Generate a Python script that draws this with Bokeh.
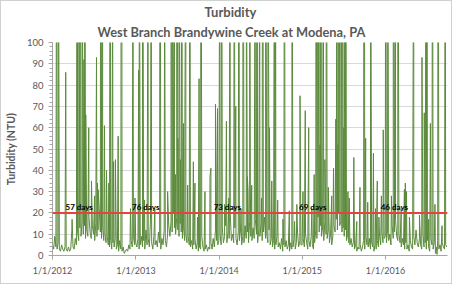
import pandas as pd
from datetime import datetime
from bokeh.plotting import figure
from bokeh.models import Span, Title, Range1d, FixedTicker, ColumnDataSource
from bokeh.core.properties import value
from bokeh.embed import file_html
from bokeh.resources import INLINE

# ---------------- data ----------------
# Baseline turbidity (NTU), one reading every 5 days starting 1/1/2012
base_2012 = [5, 3, 9, 4, 3, 6, 3, 2, 5, 3, 2, 4, 3, 2, 4, 2, 3, 12,
             4, 3, 8, 5, 11, 7, 13, 9, 16, 10, 14, 8, 12, 9, 18, 11, 8, 14,
             10, 7, 15, 9, 12, 22, 11, 8, 13, 7, 10, 6, 9, 5, 4, 7, 3, 6,
             4, 8, 3, 5, 2, 7, 3, 2, 4, 1, 2, 3, 2, 5, 3, 7, 4, 9, 5]
base_2013 = [6, 4, 8, 3, 5, 9, 4, 7, 3, 12, 5, 8, 4, 17, 6, 3, 9, 5,
             7, 4, 11, 6, 3, 8, 5, 12, 7, 4, 10, 14, 9, 16, 11, 20, 13, 10,
             18, 12, 9, 15, 11, 8, 13, 7, 10, 6, 9, 5, 4, 7, 3, 5, 8, 3,
             6, 2, 4, 3, 9, 4, 2, 3, 5, 2, 4, 3, 6, 3, 8, 4, 12, 7, 5]
base_2014 = [7, 10, 5, 13, 6, 9, 14, 6, 11, 8, 19, 7, 10, 6, 13, 8, 5, 11,
             7, 12, 5, 9, 6, 14, 8, 11, 6, 16, 9, 7, 13, 8, 17, 10, 6, 12,
             9, 15, 7, 11, 18, 8, 10, 6, 12, 5, 8, 4, 7, 3, 5, 9, 4, 6,
             3, 8, 2, 5, 4, 7, 3, 5, 2, 6, 3, 4, 8, 3, 6, 11, 4, 7, 5]
base_2015 = [5, 8, 4, 10, 6, 3, 7, 4, 9, 5, 3, 6, 12, 8, 18, 11, 14, 9,
             13, 7, 16, 10, 8, 12, 6, 10, 5, 9, 14, 11, 17, 12, 20, 14, 16, 11,
             13, 9, 12, 7, 10, 6, 5, 8, 4, 6, 3, 5, 2, 4, 3, 5, 2, 4,
             7, 3, 9, 5, 4, 8, 3, 6, 4, 2, 5, 3, 7, 4, 9, 5, 11, 6, 8]
base_2016 = [9, 6, 12, 7, 10, 5, 14, 8, 11, 17, 9, 7, 10, 6, 4, 8, 5, 3,
             6, 3, 5, 2, 7, 4, 3, 9, 5, 12, 6, 4, 8, 5, 3, 10, 4, 6,
             3, 7, 4, 2, 8, 5, 3, 6, 1, 4, 7, 3, 5, 2, 6, 4, 3, 5, 4]

# Storm peaks (date, NTU); values above 100 run off the top of the chart
peaks_2012 = [("2012-01-20", 240), ("2012-01-27", 180), ("2012-02-28", 86),
              ("2012-03-27", 17), ("2012-04-19", 310), ("2012-04-26", 150),
              ("2012-05-03", 260), ("2012-05-11", 140), ("2012-05-18", 92),
              ("2012-05-22", 200), ("2012-05-26", 66), ("2012-06-08", 60),
              ("2012-06-20", 35), ("2012-07-04", 28), ("2012-07-12", 93),
              ("2012-07-16", 34), ("2012-07-19", 31), ("2012-07-30", 220),
              ("2012-08-03", 64), ("2012-08-08", 170), ("2012-08-16", 61),
              ("2012-08-25", 40), ("2012-09-04", 34), ("2012-09-11", 280),
              ("2012-09-21", 130), ("2012-09-25", 44), ("2012-10-03", 45),
              ("2012-10-15", 56), ("2012-10-30", 450), ("2012-12-08", 22),
              ("2012-12-19", 160), ("2012-12-28", 27)]
peaks_2013 = [("2013-01-13", 87), ("2013-01-16", 190), ("2013-01-30", 230),
              ("2013-02-08", 26), ("2013-02-23", 150), ("2013-03-09", 170),
              ("2013-03-25", 22), ("2013-04-17", 260), ("2013-05-07", 140),
              ("2013-05-20", 30), ("2013-06-04", 300), ("2013-06-10", 210),
              ("2013-06-19", 180), ("2013-06-24", 38), ("2013-06-29", 350),
              ("2013-07-04", 55), ("2013-07-09", 190), ("2013-07-15", 45),
              ("2013-07-21", 240), ("2013-07-29", 62), ("2013-08-04", 71),
              ("2013-08-08", 160), ("2013-08-16", 33), ("2013-08-26", 200),
              ("2013-09-10", 44), ("2013-09-17", 34), ("2013-09-28", 18),
              ("2013-10-05", 83), ("2013-10-13", 270), ("2013-10-31", 30),
              ("2013-11-22", 37), ("2013-11-26", 41), ("2013-12-16", 71),
              ("2013-12-25", 69)]
peaks_2014 = [("2014-01-04", 180), ("2014-01-12", 230), ("2014-01-25", 24),
              ("2014-02-02", 63), ("2014-02-13", 27), ("2014-02-18", 160),
              ("2014-03-09", 210), ("2014-03-15", 70), ("2014-03-29", 190),
              ("2014-04-07", 22), ("2014-04-16", 280), ("2014-05-01", 150),
              ("2014-05-05", 37), ("2014-05-08", 30), ("2014-05-15", 220),
              ("2014-05-18", 33), ("2014-05-24", 33), ("2014-06-08", 170),
              ("2014-06-16", 260), ("2014-06-28", 140), ("2014-07-06", 27),
              ("2014-07-11", 300), ("2014-07-24", 190), ("2014-07-28", 58),
              ("2014-08-03", 250), ("2014-08-10", 60), ("2014-08-20", 35),
              ("2014-09-01", 200), ("2014-09-06", 130), ("2014-09-15", 26),
              ("2014-10-08", 17), ("2014-10-15", 240), ("2014-11-05", 21),
              ("2014-11-17", 180), ("2014-11-28", 16), ("2014-12-08", 24),
              ("2014-12-22", 75)]
peaks_2015 = [("2015-01-04", 30), ("2015-01-14", 68), ("2015-01-29", 60),
              ("2015-02-12", 22), ("2015-02-22", 38), ("2015-03-02", 160),
              ("2015-03-06", 55), ("2015-03-09", 240), ("2015-03-12", 48),
              ("2015-03-16", 190), ("2015-03-20", 52), ("2015-03-24", 210),
              ("2015-04-03", 170), ("2015-04-10", 45), ("2015-04-17", 230),
              ("2015-04-25", 32), ("2015-05-10", 28), ("2015-05-18", 41),
              ("2015-05-28", 64), ("2015-06-02", 200), ("2015-06-06", 52),
              ("2015-06-10", 310), ("2015-06-14", 48), ("2015-06-19", 260),
              ("2015-06-23", 55), ("2015-06-28", 280), ("2015-07-02", 60),
              ("2015-07-07", 190), ("2015-07-11", 150), ("2015-07-20", 30),
              ("2015-07-26", 27), ("2015-08-15", 46), ("2015-08-28", 16),
              ("2015-09-11", 32), ("2015-09-29", 380), ("2015-10-06", 55),
              ("2015-10-15", 25), ("2015-10-28", 170), ("2015-11-09", 48),
              ("2015-11-18", 22), ("2015-11-26", 35), ("2015-12-03", 18),
              ("2015-12-14", 28), ("2015-12-22", 59)]
peaks_2016 = [("2016-01-02", 210), ("2016-01-11", 160), ("2016-01-27", 28),
              ("2016-02-04", 250), ("2016-02-14", 180), ("2016-02-24", 230),
              ("2016-03-10", 22), ("2016-03-24", 31), ("2016-03-28", 34),
              ("2016-04-02", 30), ("2016-04-15", 18), ("2016-05-01", 84),
              ("2016-05-04", 190), ("2016-05-29", 19), ("2016-06-09", 93),
              ("2016-06-19", 67), ("2016-06-27", 170), ("2016-07-01", 220),
              ("2016-07-08", 17), ("2016-07-16", 62), ("2016-07-25", 200),
              ("2016-08-05", 24), ("2016-08-14", 0.5), ("2016-08-19", 240),
              ("2016-09-05", 14), ("2016-09-19", 180)]

threshold = 20
day_labels = ["57 days", "76 days", "73 days", "69 days", "46 days"]
day_label_dates = ["2012-02-27", "2012-12-15", "2013-12-08", "2014-12-18", "2015-12-11"]

tick_dates = ["2012-01-01", "2013-01-01", "2014-01-01", "2015-01-01", "2016-01-01"]
tick_labels = ["1/1/2012", "1/1/2013", "1/1/2014", "1/1/2015", "1/1/2016"]
y_ticks = [0, 10, 20, 30, 40, 50, 60, 70, 80, 90, 100]

# ---------------- build the series ----------------
base_vals = base_2012 + base_2013 + base_2014 + base_2015 + base_2016
base_dates = pd.date_range("2012-01-01", periods=len(base_vals), freq="5D")
peaks = peaks_2012 + peaks_2013 + peaks_2014 + peaks_2015 + peaks_2016
df = pd.concat([
    pd.DataFrame({"date": base_dates, "ntu": base_vals}),
    pd.DataFrame({"date": pd.to_datetime([d for d, _ in peaks]),
                  "ntu": [v for _, v in peaks]}),
]).sort_values("date").reset_index(drop=True)
src = ColumnDataSource(df)

FONT = "Lato"
GREY = "#595959"

p = figure(width=452, height=284, x_axis_type="datetime",
           x_range=Range1d(datetime(2012, 1, 1), datetime(2016, 9, 29)),
           y_range=Range1d(0, 100),
           output_backend="svg", toolbar_location=None,
           min_border_left=49, min_border_right=6, min_border_top=10,
           min_border_bottom=30)
p.styles = {"border": "1px solid #d0d0d0"}
p.outline_line_color = None
p.background_fill_color = "white"
p.border_fill_color = "white"

p.add_layout(Title(text="West Branch Brandywine Creek at Modena, PA",
                   align="left", offset=45, text_font=FONT,
                   text_font_size="12.8px", text_font_style="bold",
                   text_color=GREY, standoff=5), "above")
p.add_layout(Title(text="Turbidity", align="left", offset=152, text_font=FONT,
                   text_font_size="13px", text_font_style="bold",
                   text_color=GREY, standoff=0), "above")

p.line(x="date", y="ntu", source=src, line_color="#5b8a3c", line_width=1)

p.add_layout(Span(location=threshold, dimension="width",
                  line_color="#e5433b", line_width=2))
p.text(x=pd.to_datetime(day_label_dates), y=[threshold] * len(day_labels),
       text=day_labels, text_font=value(FONT), text_font_size="8px",
       text_font_style="bold", text_color="black",
       text_baseline="bottom", text_align="left", y_offset=-1)

# axes
tick_ms = [pd.Timestamp(d).value / 1e6 for d in tick_dates]
p.xaxis.ticker = FixedTicker(ticks=tick_ms)
p.xaxis.major_label_overrides = {t: l for t, l in zip(tick_ms, tick_labels)}
p.yaxis.ticker = FixedTicker(ticks=y_ticks, minor_ticks=list(range(0, 101, 2)))
for ax in (p.xaxis, p.yaxis):
    ax.axis_line_color = "#a6a6a6"
    ax.major_tick_line_color = "#a6a6a6"
    ax.minor_tick_line_color = "#a6a6a6"
    ax.major_label_text_font = FONT
    ax.major_label_text_color = GREY
p.xaxis.major_label_text_font_size = "9px"
p.yaxis.major_label_text_font_size = "9.5px"
p.xaxis.minor_tick_line_color = None
p.xaxis.major_tick_out = 4
p.xaxis.major_tick_in = 0
p.xaxis.major_label_standoff = 5
p.yaxis.major_tick_out = 4
p.yaxis.major_tick_in = 0
p.yaxis.minor_tick_out = 3
p.yaxis.minor_tick_in = 0
p.yaxis.axis_label = "Turbidity (NTU)"
p.yaxis.axis_label_text_font = FONT
p.yaxis.axis_label_text_font_size = "10.5px"
p.yaxis.axis_label_text_font_style = "bold"
p.yaxis.axis_label_text_color = GREY
p.yaxis.axis_label_standoff = 7

p.xgrid.grid_line_color = None
p.ygrid.grid_line_color = "#d9d9d9"
p.ygrid.ticker = FixedTicker(ticks=y_ticks)

open("out.html", "w").write(file_html(p, INLINE))
